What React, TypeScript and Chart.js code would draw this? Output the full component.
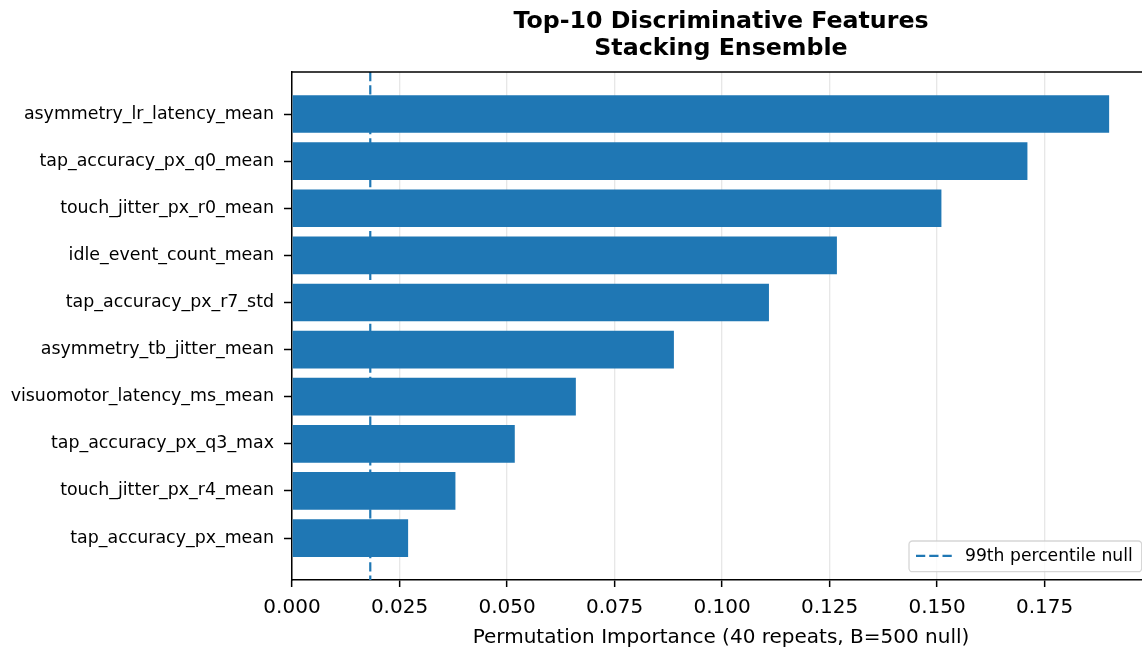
import React, { useEffect, useRef } from 'react';
import { Chart, registerables } from 'chart.js';

Chart.register(...registerables);

const FONT = "'DejaVu Sans', 'Liberation Sans', sans-serif";

const features = [
  'asymmetry_lr_latency_mean',
  'tap_accuracy_px_q0_mean',
  'touch_jitter_px_r0_mean',
  'idle_event_count_mean',
  'tap_accuracy_px_r7_std',
  'asymmetry_tb_jitter_mean',
  'visuomotor_latency_ms_mean',
  'tap_accuracy_px_q3_max',
  'touch_jitter_px_r4_mean',
  'tap_accuracy_px_mean',
];

const importance = [0.190, 0.171, 0.151, 0.1267, 0.1109, 0.0888, 0.066, 0.0518, 0.038, 0.027];

const nullThreshold = 0.0182;
const legendLabel = '99th percentile null';

const xTicks = [0, 0.025, 0.05, 0.075, 0.1, 0.125, 0.15, 0.175];
const xTickLabels = ['0.000', '0.025', '0.050', '0.075', '0.100', '0.125', '0.150', '0.175'];
const xMax = 0.1995;

const titleLines = ['Top-10 Discriminative Features', 'Stacking Ensemble'];
const xAxisTitle = 'Permutation Importance (40 repeats, B=500 null)';

const BAR_COLOR = '#1f77b4';

const overlayPlugin = {
  id: 'overlay',
  beforeDatasetsDraw(chart: any) {
    const { ctx, chartArea } = chart;
    const xs = chart.scales.x;
    const px = xs.getPixelForValue(nullThreshold);
    ctx.save();
    ctx.beginPath();
    ctx.rect(chartArea.left, chartArea.top, chartArea.right - chartArea.left, chartArea.bottom - chartArea.top);
    ctx.clip();
    ctx.strokeStyle = BAR_COLOR;
    ctx.lineWidth = 2.2;
    ctx.setLineDash([9.25, 4]);
    ctx.beginPath();
    ctx.moveTo(px, chartArea.top);
    ctx.lineTo(px, chartArea.bottom);
    ctx.stroke();
    ctx.restore();
  },
  afterDraw(chart: any) {
    const { ctx, chartArea } = chart;
    ctx.save();
    ctx.strokeStyle = '#000';
    ctx.lineWidth = 1.5;
    ctx.setLineDash([]);
    ctx.beginPath();
    ctx.moveTo(chartArea.left - 0.75, chartArea.top);
    ctx.lineTo(chartArea.right, chartArea.top);
    ctx.lineTo(chartArea.right, chartArea.bottom);
    ctx.stroke();

    const bx = 909;
    const by = 541;
    const bw = chartArea.right - 8.3 - bx;
    const bh = chartArea.bottom - 8.3 - by;
    const r = 3.5;
    ctx.beginPath();
    ctx.moveTo(bx + r, by);
    ctx.lineTo(bx + bw - r, by);
    ctx.arcTo(bx + bw, by, bx + bw, by + r, r);
    ctx.lineTo(bx + bw, by + bh - r);
    ctx.arcTo(bx + bw, by + bh, bx + bw - r, by + bh, r);
    ctx.lineTo(bx + r, by + bh);
    ctx.arcTo(bx, by + bh, bx, by + bh - r, r);
    ctx.lineTo(bx, by + r);
    ctx.arcTo(bx, by, bx + r, by, r);
    ctx.closePath();
    ctx.fillStyle = 'rgba(255,255,255,0.8)';
    ctx.fill();
    ctx.strokeStyle = 'rgba(204,204,204,0.8)';
    ctx.lineWidth = 1.3;
    ctx.stroke();

    const ly = by + bh / 2 - 0.5;
    ctx.strokeStyle = BAR_COLOR;
    ctx.lineWidth = 2.2;
    ctx.setLineDash([9.25, 4]);
    ctx.beginPath();
    ctx.moveTo(bx + 7, ly);
    ctx.lineTo(bx + 43, ly);
    ctx.stroke();
    ctx.setLineDash([]);

    ctx.fillStyle = '#000';
    ctx.font = `17.2px ${FONT}`;
    ctx.textAlign = 'left';
    ctx.textBaseline = 'middle';
    ctx.fillText(legendLabel, bx + 56, ly + 1);
    ctx.restore();
  },
};

export default function App() {
  const canvasRef = useRef<HTMLCanvasElement | null>(null);

  useEffect(() => {
    document.body.style.margin = '0';
    document.body.style.overflow = 'hidden';
    const canvas = canvasRef.current;
    if (!canvas) return;

    const chart = new Chart(canvas, {
      type: 'bar',
      data: {
        datasets: [
          {
            label: 'importance',
            data: features.map((_, i) => ({ x: importance[i], y: i })),
            backgroundColor: BAR_COLOR,
            borderWidth: 0,
            categoryPercentage: 1,
            barPercentage: 0.8,
          },
        ],
      },
      options: {
        indexAxis: 'y',
        animation: false,
        responsive: false,
        maintainAspectRatio: false,
        layout: { padding: { left: 0, right: 2, top: 0, bottom: 0 } },
        plugins: {
          legend: { display: false },
          tooltip: { enabled: false },
          title: {
            display: true,
            text: titleLines,
            fullSize: false,
            color: '#000',
            font: { family: FONT, size: 23.7, weight: 'bold', lineHeight: 1.12 },
            padding: { top: 9, bottom: 10 },
          },
        },
        scales: {
          x: {
            type: 'linear',
            min: 0,
            max: xMax,
            z: 1,
            offset: false,
            afterBuildTicks: (s: any) => {
              s.ticks = xTicks.map((v) => ({ value: v }));
            },
            afterFit: (s: any) => {
              s.height = 67;
            },
            ticks: {
              autoSkip: false,
              maxRotation: 0,
              color: '#000',
              padding: 9,
              font: { family: FONT, size: 20 },
              callback: (_v: any, i: number) => xTickLabels[i],
            },
            grid: {
              display: true,
              offset: false,
              drawOnChartArea: true,
              color: 'rgba(176,176,176,0.3)',
              lineWidth: 1.3,
              drawTicks: true,
              tickColor: '#000',
              tickLength: 7,
              tickWidth: 1.5,
            },
            border: { display: true, color: '#000', width: 1.5 },
            title: {
              display: true,
              text: xAxisTitle,
              color: '#000',
              font: { family: FONT, size: 20, lineHeight: 1 },
              padding: { top: 0, bottom: -1 },
            },
          },
          y: {
            type: 'linear',
            min: -0.89,
            max: 9.89,
            reverse: true,
            offset: false,
            afterBuildTicks: (s: any) => {
              s.ticks = features.map((_, i) => ({ value: i }));
            },
            afterFit: (s: any) => {
              s.width = 292;
            },
            ticks: {
              autoSkip: false,
              color: '#000',
              padding: 10,
              font: { family: FONT, size: 17.4 },
              callback: (v: any) => features[Math.round(Number(v))],
            },
            grid: {
              display: true,
              offset: false,
              drawOnChartArea: false,
              drawTicks: true,
              tickColor: '#000',
              tickLength: 8,
              tickWidth: 1.5,
            },
            border: { display: true, color: '#000', width: 1.5 },
          },
        },
      },
      plugins: [overlayPlugin],
    } as any);

    return () => {
      chart.destroy();
    };
  }, []);

  return (
    <div style={{ width: 1142, height: 647, overflow: 'hidden', position: 'relative' }}>
      <canvas ref={canvasRef} width={1152} height={647} style={{ display: 'block', width: 1152, height: 647 }} />
    </div>
  );
}
